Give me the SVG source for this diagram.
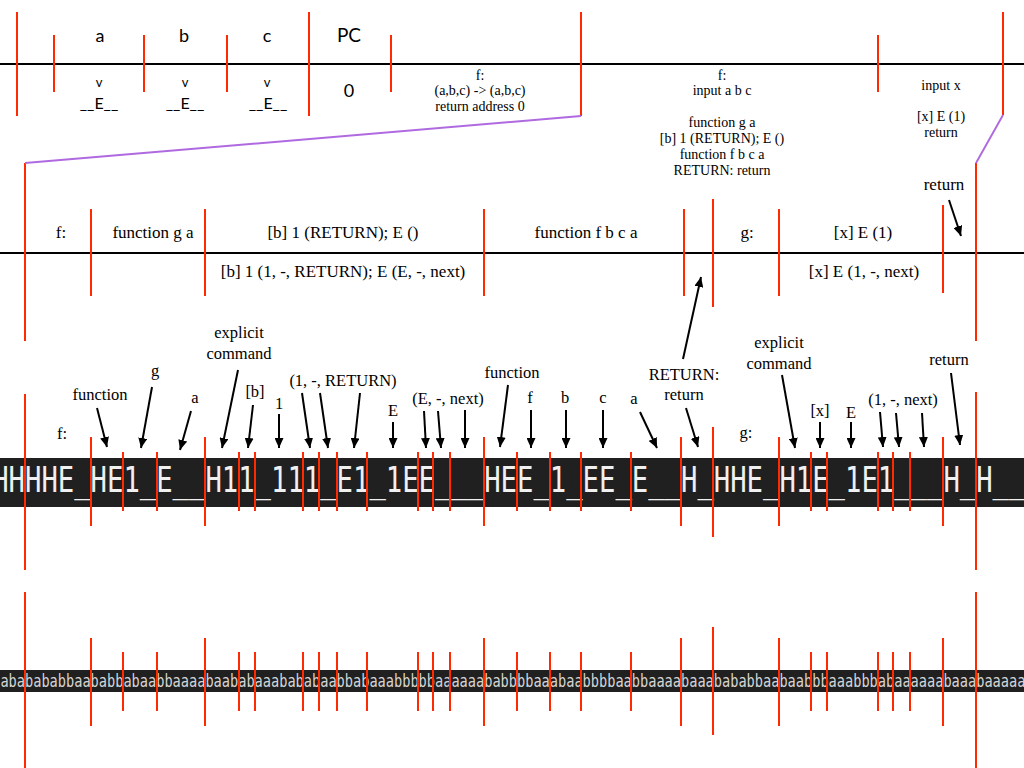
<svg xmlns="http://www.w3.org/2000/svg" width="1024" height="768" viewBox="0 0 1024 768">
<defs>
<style>
.r{stroke:#ff2a00;stroke-width:2;fill:none}
.k{stroke:#000;stroke-width:2;fill:none}
.p{stroke:#b06ae0;stroke-width:2;fill:none}
.a{stroke:#000;stroke-width:2;fill:none;marker-end:url(#ah)}
.sans{font-family:Lato,"Open Sans","DejaVu Sans",sans-serif;fill:#000;text-anchor:middle}
.ser{font-family:"Liberation Serif","Times New Roman",serif;fill:#000;text-anchor:middle}
.s14{font-size:14px}
.s17{font-size:17px}
.s16{font-size:16.5px}
.mono{font-family:"DejaVu Sans Mono",monospace}
</style>
<marker id="ah" markerWidth="10" markerHeight="9" refX="10" refY="4.5" orient="auto" markerUnits="userSpaceOnUse">
<path d="M0,0 L10,4.5 L0,9 z" fill="#000"/>
</marker>
</defs>
<rect width="1024" height="768" fill="#fff"/>

<g id="row1">
<line class="k" x1="0" y1="64" x2="1024" y2="64"/>
<g id="row1-ticks">
<line class="r" x1="17" y1="12" x2="17" y2="116"/>
<line class="r" x1="54" y1="35" x2="54" y2="92"/>
<line class="r" x1="144" y1="35" x2="144" y2="92"/>
<line class="r" x1="227" y1="35" x2="227" y2="92"/>
<line class="r" x1="309" y1="12" x2="309" y2="116"/>
<line class="r" x1="391" y1="35" x2="391" y2="92"/>
<line class="r" x1="581" y1="12" x2="581" y2="116"/>
<line class="r" x1="878" y1="35" x2="878" y2="92"/>
<line class="r" x1="1003" y1="12" x2="1003" y2="115"/>
</g>
<g id="n-a"><text class="sans" x="100" y="42" font-size="18">a</text><text class="sans" x="99" y="87" font-size="13">v</text><text class="sans" x="99" y="109" font-size="16">__E__</text></g>
<g id="n-b"><text class="sans" x="184" y="42" font-size="18">b</text><text class="sans" x="185" y="87" font-size="13">v</text><text class="sans" x="185" y="109" font-size="16">__E__</text></g>
<g id="n-c"><text class="sans" x="267" y="42" font-size="18">c</text><text class="sans" x="267" y="87" font-size="13">v</text><text class="sans" x="268" y="109" font-size="16">__E__</text></g>
<g id="n-pc"><text class="sans" x="349" y="42" font-size="19">PC</text><text class="sans" x="349" y="97" font-size="18">0</text></g>
<g id="n-f1" class="ser s14">
<text x="480" y="80">f:</text>
<text x="480" y="95">(a,b,c) -&gt; (a,b,c)</text>
<text x="480" y="111">return address 0</text>
</g>
<g id="n-f2" class="ser s14">
<text x="722" y="80">f:</text>
<text x="722" y="95">input a b c</text>
<text x="722" y="127">function g a</text>
<text x="722" y="143">[b] 1 (RETURN); E ()</text>
<text x="722" y="159">function f b c a</text>
<text x="722" y="175">RETURN: return</text>
</g>
<g id="n-g1" class="ser s14">
<text x="941" y="90">input x</text>
<text x="941" y="121">[x] E (1)</text>
<text x="941" y="137">return</text>
</g>
</g>

<g id="row2">
<line class="k" x1="0" y1="253" x2="1024" y2="253"/>
<line class="r" x1="25" y1="163" x2="25" y2="341"/>
<line class="r" x1="91" y1="209" x2="91" y2="296"/>
<line class="r" x1="205" y1="209" x2="205" y2="296"/>
<line class="r" x1="484" y1="209" x2="484" y2="296"/>
<line class="r" x1="684" y1="209" x2="684" y2="296"/>
<line class="r" x1="713" y1="199" x2="713" y2="307"/>
<line class="r" x1="779" y1="209" x2="779" y2="296"/>
<line class="r" x1="943" y1="205" x2="943" y2="293"/>
<line class="r" x1="976" y1="163" x2="976" y2="341"/>
<g id="n-r2-f" class="ser s17"><text x="61" y="238">f:</text></g>
<g id="n-r2-fga" class="ser s17"><text x="153" y="238">function g a</text></g>
<g id="n-r2-b" class="ser s17"><text x="343" y="238">[b] 1 (RETURN); E ()</text><text x="343" y="277">[b] 1 (1, -, RETURN); E (E, -, next)</text></g>
<g id="n-r2-ffbca" class="ser s17"><text x="586" y="238">function f b c a</text></g>
<g id="n-r2-g" class="ser s17"><text x="747" y="238">g:</text></g>
<g id="n-r2-x" class="ser s17"><text x="863" y="238">[x] E (1)</text><text x="864" y="277">[x] E (1, -, next)</text></g>
<g id="n-r2-ret" class="ser s17"><text x="944" y="190">return</text></g>
</g>

<g id="row3">
<rect x="0" y="458" width="1024" height="49" fill="#202020"/>
<text class="mono" x="-7.8" y="492" font-size="36" fill="#f0f0f0" textLength="1049.6" lengthAdjust="spacingAndGlyphs">HHHHE_HE1_E__H11_111_E1_1EE___HEE_1_EE_E__H_HHE_H1E_1E1___H_H___</text>
<g id="row3-ticks">
<line class="r" x1="25" y1="394" x2="25" y2="570"/>
<line class="r" x1="976" y1="392" x2="976" y2="570"/>
<line class="r" x1="713" y1="427" x2="713" y2="537"/>
<line class="r" x1="91" y1="437" x2="91" y2="526"/>
<line class="r" x1="205" y1="437" x2="205" y2="526"/>
<line class="r" x1="484" y1="437" x2="484" y2="526"/>
<line class="r" x1="681" y1="437" x2="681" y2="526"/>
<line class="r" x1="779" y1="437" x2="779" y2="526"/>
<line class="r" x1="943" y1="437" x2="943" y2="526"/>
<path class="r" d="M123,452V511M157,452V511M239,452V511M255,452V511M303,452V511M319,452V511M337,452V511M367,452V511M418,452V511M433,452V511M450,452V511M517,452V511M550,452V511M581,452V511M631,452V511M811,452V511M827,452V511M878,452V511M893,452V511M910,452V511"/>
</g>
<g id="row3-labels" class="ser s16">
<text x="62" y="439">f:</text>
<text x="100" y="400">function</text>
<text x="155" y="376">g</text>
<text x="195" y="403">a</text>
<text x="239" y="338">explicit</text>
<text x="239" y="359">command</text>
<text x="255" y="397">[b]</text>
<text x="279" y="409">1</text>
<text x="343" y="386">(1, -, RETURN)</text>
<text x="393" y="416">E</text>
<text x="448" y="404">(E, -, next)</text>
<text x="512" y="378">function</text>
<text x="530" y="403">f</text>
<text x="565" y="403">b</text>
<text x="603" y="403">c</text>
<text x="634" y="404">a</text>
<text x="684" y="380">RETURN:</text>
<text x="684" y="400">return</text>
<text x="746" y="438">g:</text>
<text x="779" y="348">explicit</text>
<text x="779" y="369">command</text>
<text x="820" y="416">[x]</text>
<text x="851" y="418">E</text>
<text x="903" y="405">(1, -, next)</text>
<text x="949" y="365">return</text>
</g>
</g>

<g id="row4">
<rect x="0" y="670" width="1024" height="22" fill="#202020"/>
<text class="mono" x="0.4" y="687" font-size="18" fill="#d4d4d4" textLength="1025" lengthAdjust="spacingAndGlyphs">ababababbaababbabaabbaaaabaababaaabababaabbabaaabbbbbaaaaaababbbbaaabaabbbbaabbaaaabaaabababbaabaabbbaaabbbabaaaaaabaaabaaaaa</text>
<g id="row4-ticks">
<line class="r" x1="25" y1="592" x2="25" y2="768"/>
<line class="r" x1="976" y1="592" x2="976" y2="768"/>
<line class="r" x1="713" y1="627" x2="713" y2="735"/>
<line class="r" x1="91" y1="638" x2="91" y2="726"/>
<line class="r" x1="205" y1="638" x2="205" y2="726"/>
<line class="r" x1="484" y1="638" x2="484" y2="726"/>
<line class="r" x1="681" y1="638" x2="681" y2="726"/>
<line class="r" x1="779" y1="638" x2="779" y2="726"/>
<line class="r" x1="943" y1="638" x2="943" y2="726"/>
<path class="r" d="M123,652V711M157,652V711M239,652V711M255,652V711M303,652V711M319,652V711M337,652V711M367,652V711M418,652V711M433,652V711M450,652V711M517,652V711M550,652V711M581,652V711M631,652V711M811,652V711M827,652V711M878,652V711M893,652V711M910,652V711"/>
</g>
</g>

<g id="connectors">
<line class="p" x1="581" y1="116" x2="25" y2="163"/>
<line class="p" x1="1003" y1="115" x2="976" y2="163"/>
<line class="a" x1="949" y1="200" x2="961" y2="236"/>
<line class="a" x1="683" y1="359" x2="701" y2="277"/>
<line class="a" x1="97" y1="408" x2="107" y2="447"/>
<line class="a" x1="152" y1="387" x2="141" y2="448"/>
<line class="a" x1="191" y1="411" x2="180" y2="450"/>
<line class="a" x1="238" y1="370" x2="222" y2="448"/>
<line class="a" x1="253" y1="405" x2="248" y2="448"/>
<line class="a" x1="279" y1="414" x2="279" y2="448"/>
<line class="a" x1="302" y1="393" x2="310" y2="448"/>
<line class="a" x1="320" y1="393" x2="328" y2="448"/>
<line class="a" x1="360" y1="393" x2="354" y2="448"/>
<line class="a" x1="393" y1="422" x2="393" y2="448"/>
<line class="a" x1="424" y1="411" x2="426" y2="448"/>
<line class="a" x1="438" y1="411" x2="441" y2="448"/>
<line class="a" x1="465" y1="410" x2="465" y2="448"/>
<line class="a" x1="508" y1="385" x2="500" y2="447"/>
<line class="a" x1="531" y1="410" x2="531" y2="448"/>
<line class="a" x1="566" y1="410" x2="566" y2="448"/>
<line class="a" x1="603" y1="410" x2="603" y2="448"/>
<line class="a" x1="640" y1="412" x2="657" y2="448"/>
<line class="a" x1="686" y1="408" x2="698" y2="447"/>
<line class="a" x1="782" y1="375" x2="795" y2="448"/>
<line class="a" x1="820" y1="422" x2="820" y2="448"/>
<line class="a" x1="851" y1="422" x2="851" y2="448"/>
<line class="a" x1="880" y1="412" x2="883" y2="447"/>
<line class="a" x1="896" y1="413" x2="899" y2="447"/>
<line class="a" x1="922" y1="413" x2="924" y2="447"/>
<line class="a" x1="951" y1="373" x2="960" y2="445"/>
</g>
</svg>
